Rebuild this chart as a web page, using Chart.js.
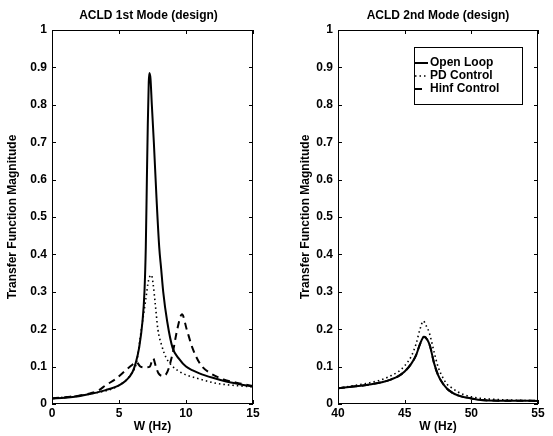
<!DOCTYPE html>
<html>
<head>
<meta charset="utf-8">
<script src="https://cdn.jsdelivr.net/npm/chart.js@4.4.0/dist/chart.umd.min.js"></script>
<style>
  html, body { margin: 0; padding: 0; background: #fff; }
  #wrap { position: relative; width: 553px; height: 436px; }
  canvas { position: absolute; top: 0; }
</style>
</head>
<body>
<div id="wrap">
  <canvas id="mode1" width="276" height="436" style="left:0"></canvas>
  <canvas id="mode2" width="277" height="436" style="left:276px"></canvas>
</div>
<script>
// ── Data ───────────────────────────────────────────
const yTicks = [0, 0.1, 0.2, 0.3, 0.4, 0.5, 0.6, 0.7, 0.8, 0.9, 1];
const yTickLabels = ['0', '0.1', '0.2', '0.3', '0.4', '0.5', '0.6', '0.7', '0.8', '0.9', '1'];

// 1st mode
const mode1Ticks = [0, 5, 10, 15];
const m1OpenW = [0, 1, 2, 3, 4, 5, 5.5, 6, 6.25, 6.5, 6.75, 6.9, 7.0, 7.08, 7.15, 7.22, 7.27, 7.35, 7.45, 7.6, 7.8, 8.0, 8.15, 8.3, 8.6, 9.0, 9.5, 10, 10.5, 11, 12, 13, 14, 15];
const m1OpenMag = [0.015, 0.017, 0.021, 0.028, 0.037, 0.05, 0.062, 0.085, 0.11, 0.15, 0.22, 0.3, 0.42, 0.6, 0.75, 0.86, 0.885, 0.87, 0.8, 0.7, 0.55, 0.42, 0.36, 0.3, 0.22, 0.15, 0.12, 0.1, 0.09, 0.082, 0.07, 0.06, 0.053, 0.047];
const m1PdW = [0, 3, 5, 6, 6.3, 6.67, 7.0, 7.2, 7.42, 7.55, 7.7, 7.9, 8.2, 8.5, 8.8, 9.5, 10, 10.8, 12.3, 13.5, 15];
const m1PdMag = [0.015, 0.028, 0.05, 0.085, 0.11, 0.2, 0.28, 0.33, 0.345, 0.32, 0.27, 0.2, 0.155, 0.125, 0.108, 0.087, 0.078, 0.069, 0.055, 0.05, 0.046];
const m1HinfW = [0, 2, 3, 3.5, 4, 4.8, 5.5, 6.0, 6.3, 6.6, 7.0, 7.3, 7.55, 7.75, 7.95, 8.3, 8.6, 9.0, 9.35, 9.7, 10.05, 10.5, 11.1, 11.8, 12.8, 14, 15];
const m1HinfMag = [0.015, 0.022, 0.03, 0.037, 0.05, 0.068, 0.09, 0.105, 0.112, 0.1, 0.098, 0.1, 0.122, 0.1, 0.082, 0.075, 0.085, 0.135, 0.2, 0.24, 0.2, 0.148, 0.105, 0.083, 0.066, 0.055, 0.048];

// 2nd mode
const mode2Ticks = [40, 45, 50, 55];
const m2OpenW = [40, 41, 42, 43, 43.5, 44, 44.5, 45, 45.5, 45.85, 46.15, 46.45, 46.7, 46.9, 47.2, 47.5, 47.8, 48.2, 48.5, 49, 49.5, 50, 50.7, 52, 53.5, 55];
const m2OpenMag = [0.042, 0.046, 0.05, 0.056, 0.06, 0.066, 0.074, 0.087, 0.108, 0.13, 0.16, 0.18, 0.172, 0.155, 0.11, 0.078, 0.058, 0.04, 0.032, 0.023, 0.018, 0.015, 0.011, 0.009, 0.009, 0.008];
const m2PdW = [40, 41, 42, 43, 43.5, 44, 44.5, 45, 45.5, 45.85, 46.15, 46.4, 46.6, 46.85, 47.2, 47.5, 47.8, 48.2, 48.5, 49, 49.5, 50, 50.7, 52, 53.5, 55];
const m2PdMag = [0.042, 0.048, 0.054, 0.062, 0.068, 0.076, 0.086, 0.102, 0.128, 0.16, 0.2, 0.222, 0.21, 0.19, 0.14, 0.1, 0.075, 0.052, 0.044, 0.032, 0.024, 0.019, 0.015, 0.012, 0.01, 0.009];
// Hinf lies on top of the open-loop curve for the 2nd mode
const m2HinfW = [40, 41, 42, 43, 43.5, 44, 44.5, 45, 45.5, 45.85, 46.15, 46.45, 46.7, 46.9, 47.2, 47.5, 47.8, 48.2, 48.5, 49, 49.5, 50, 50.7, 52, 53.5, 55];
const m2HinfMag = [0.042, 0.046, 0.05, 0.056, 0.06, 0.066, 0.074, 0.087, 0.108, 0.13, 0.16, 0.18, 0.172, 0.155, 0.11, 0.078, 0.058, 0.04, 0.032, 0.023, 0.018, 0.015, 0.011, 0.009, 0.009, 0.008];

const seriesNames = ['Open Loop', 'PD Control', 'Hinf Control'];

// ── Helpers ────────────────────────────────────────
const FONT = { family: '"Liberation Sans", Arial, sans-serif', size: 12, weight: 'bold' };
const STYLES = [
  { borderWidth: 2, borderDash: [] },
  { borderWidth: 1.6, borderDash: [1.5, 3] },
  { borderWidth: 2, borderDash: [7, 5] },
];

const toPoints = (w, m) => w.map((v, i) => ({ x: v, y: m[i] }));

function makeDatasets(pairs) {
  return pairs.map(([w, m], i) => ({
    label: seriesNames[i],
    data: toPoints(w, m),
    borderColor: '#000',
    borderWidth: STYLES[i].borderWidth,
    borderDash: STYLES[i].borderDash,
    pointRadius: 0,
    fill: false,
    cubicInterpolationMode: 'monotone',
  }));
}

// frame, inward ticks, title and (optional) legend box, MATLAB style
const matlabAxes = {
  id: 'matlabAxes',
  afterDatasetsDraw(chart, args, opts) {
    const { ctx, chartArea: a, scales: { x, y } } = chart;
    ctx.save();
    ctx.strokeStyle = '#000';
    ctx.lineWidth = 1;
    ctx.setLineDash([]);
    ctx.strokeRect(a.left + 0.5, a.top + 0.5, a.width - 1, a.height - 1);

    ctx.beginPath();
    opts.xTicks.forEach(v => {
      const px = Math.round(x.getPixelForValue(v)) + 0.5;
      ctx.moveTo(px, a.bottom); ctx.lineTo(px, a.bottom - 4);
      ctx.moveTo(px, a.top); ctx.lineTo(px, a.top + 4);
    });
    yTicks.forEach(v => {
      const py = Math.round(y.getPixelForValue(v)) + 0.5;
      ctx.moveTo(a.left, py); ctx.lineTo(a.left + 4, py);
      ctx.moveTo(a.right, py); ctx.lineTo(a.right - 4, py);
    });
    ctx.stroke();

    ctx.fillStyle = '#000';
    ctx.font = `bold 12px ${FONT.family}`;
    ctx.textAlign = 'center';
    ctx.textBaseline = 'middle';
    ctx.fillText(opts.title, (a.left + a.right) / 2 + (opts.titleShift || 0), 16);

    if (opts.legend) {
      const bx = a.right - 124, by = a.top + 17, bw = 108, bh = 57;
      ctx.fillStyle = '#fff';
      ctx.fillRect(bx, by, bw, bh);
      ctx.strokeRect(bx + 0.5, by + 0.5, bw, bh);
      ctx.textAlign = 'left';
      chart.data.datasets.forEach((ds, i) => {
        const ly = by + 16 + i * 13;
        // dashed sample shows a single dash, like the reference
        const x0 = bx + 1, x1 = ds.borderDash.length > 2 || ds.borderDash[0] > 3 ? bx + 9 : bx + 14;
        ctx.beginPath();
        ctx.lineWidth = ds.borderWidth;
        ctx.setLineDash(ds.borderDash);
        ctx.moveTo(x0, ly); ctx.lineTo(x1, ly);
        ctx.stroke();
        ctx.setLineDash([]);
        ctx.lineWidth = 1;
        ctx.fillStyle = '#000';
        ctx.fillText(ds.label, bx + 16, ly);
      });
    }
    ctx.restore();
  }
};

function makeChart(id, datasets, cfg) {
  return new Chart(document.getElementById(id), {
    type: 'line',
    data: { datasets },
    plugins: [matlabAxes],
    options: {
      responsive: false,
      animation: false,
      devicePixelRatio: 1,
      layout: { padding: { top: 30, right: cfg.padRight, left: 0, bottom: 0 } },
      plugins: {
        legend: { display: false },
        tooltip: { enabled: false },
        title: { display: false },
        matlabAxes: { title: cfg.title, xTicks: cfg.xTicks, legend: cfg.legend, titleShift: cfg.titleShift },
      },
      scales: {
        x: {
          type: 'linear',
          min: cfg.xTicks[0],
          max: cfg.xTicks[cfg.xTicks.length - 1],
          afterBuildTicks: s => { s.ticks = cfg.xTicks.map(v => ({ value: v })); },
          afterFit: s => { s.height = 32; },
          grid: { display: false, drawTicks: false },
          border: { display: false },
          ticks: { padding: 2, autoSkip: false, maxRotation: 0, color: '#000', font: FONT },
          title: { display: true, text: 'W (Hz)', color: '#000', font: FONT, padding: { top: 0, bottom: 2 } },
        },
        y: {
          min: 0,
          max: 1,
          afterBuildTicks: s => { s.ticks = yTicks.map(v => ({ value: v })); },
          afterFit: s => { s.width = cfg.yWidth; },
          grid: { display: false, drawTicks: false },
          border: { display: false },
          ticks: { padding: 5, autoSkip: false, color: '#000', font: FONT, callback: (v, i) => yTickLabels[i] },
          title: { display: true, text: 'Transfer Function Magnitude', color: '#000', font: FONT, padding: { top: cfg.yTitlePad, bottom: 0 } },
        },
      },
    },
  });
}

makeChart('mode1', makeDatasets([[m1OpenW, m1OpenMag], [m1PdW, m1PdMag], [m1HinfW, m1HinfMag]]), {
  title: 'ACLD 1st Mode (design)', xTicks: mode1Ticks, padRight: 23, yWidth: 52, yTitlePad: 5, legend: false, titleShift: -4,
});
makeChart('mode2', makeDatasets([[m2OpenW, m2OpenMag], [m2PdW, m2PdMag], [m2HinfW, m2HinfMag]]), {
  title: 'ACLD 2nd Mode (design)', xTicks: mode2Ticks, padRight: 15, yWidth: 62, yTitlePad: 22, legend: true, titleShift: 0,
});
</script>
</body>
</html>
